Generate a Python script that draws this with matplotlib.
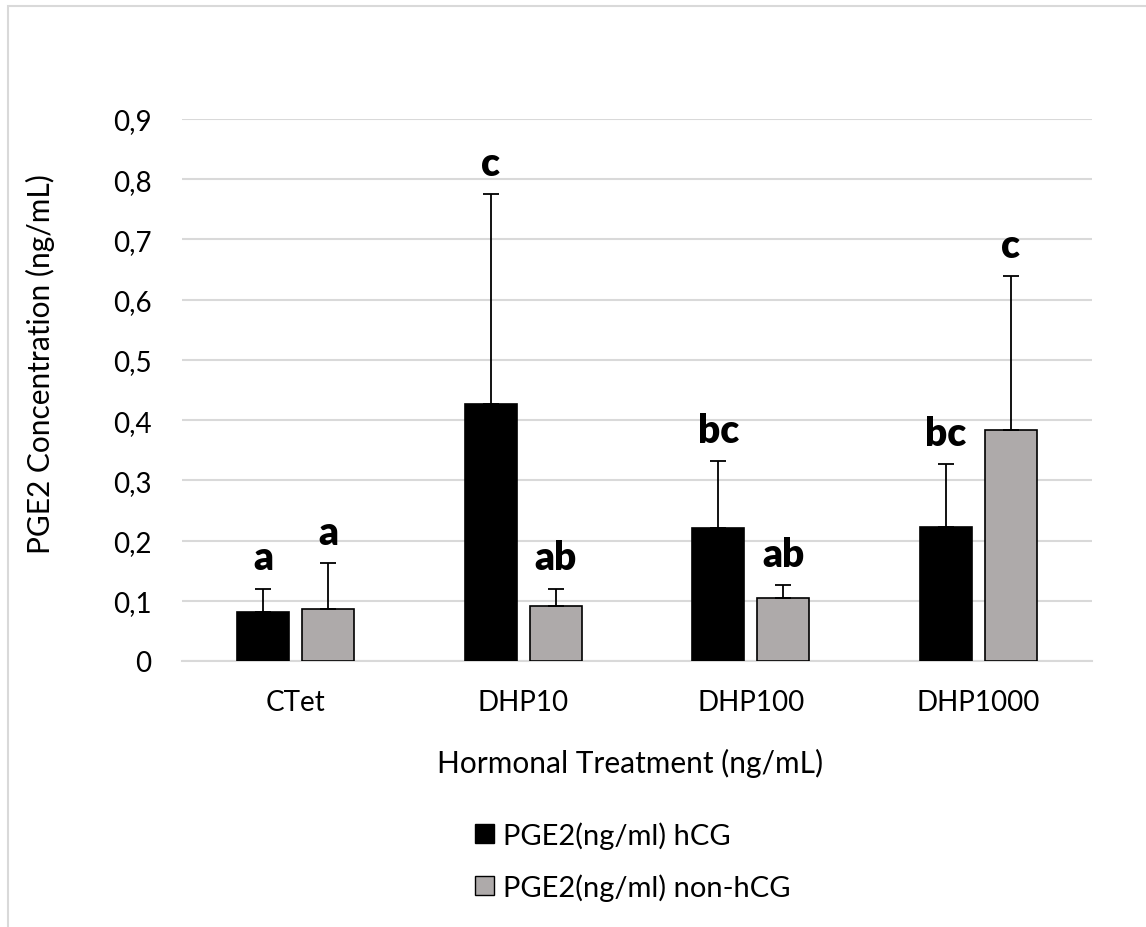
import numpy as np
import matplotlib.pyplot as plt
from matplotlib.patches import Rectangle, Patch

plt.rcParams['font.family'] = ['Lato', 'DejaVu Sans']

# Datos
tratamientos = ['CTet', 'DHP10', 'DHP100', 'DHP1000']
hcg = [0.082, 0.426, 0.221, 0.223]
hcg_err = [0.038, 0.349, 0.111, 0.104]
non_hcg = [0.086, 0.092, 0.104, 0.383]
non_hcg_err = [0.076, 0.028, 0.022, 0.256]
letras_hcg = ['a', 'c', 'bc', 'bc']
letras_non = ['a', 'ab', 'ab', 'c']
yticks = [0, 0.1, 0.2, 0.3, 0.4, 0.5, 0.6, 0.7, 0.8, 0.9]

W, H = 1146, 928
fig = plt.figure(figsize=(W / 100, H / 100), dpi=100)
ax = fig.add_axes([182 / W, 1 - 662 / H, (1092 - 182) / W, (662 - 120) / H])

# borde del grafico
fig.patches.append(Rectangle((8 / W, -0.1), 1.2, 1 - 7 / H + 0.1, transform=fig.transFigure,
                             fill=False, edgecolor='#d9d9d9', linewidth=1.5))

x = np.arange(len(tratamientos))
ancho = 0.228
desp = 0.143
negro = '#000000'
gris = '#aeaaaa'

ax.bar(x - desp, hcg, ancho, color=negro, edgecolor='black', linewidth=1.2, zorder=3)
ax.bar(x + desp, non_hcg, ancho, color=gris, edgecolor='black', linewidth=1.2, zorder=3)
ax.errorbar(x - desp, hcg, yerr=[np.zeros(4), hcg_err], fmt='none', ecolor='black',
            elinewidth=1.3, capsize=6, capthick=1.3, zorder=4)
ax.errorbar(x + desp, non_hcg, yerr=[np.zeros(4), non_hcg_err], fmt='none', ecolor='black',
            elinewidth=1.3, capsize=6, capthick=1.3, zorder=4)

# letras de significancia
for i in range(len(x)):
    ax.annotate(letras_hcg[i], (x[i] - desp, hcg[i] + hcg_err[i]), xytext=(0, 14),
                textcoords='offset points', ha='center', va='baseline',
                fontsize=28, fontweight='heavy')
    ax.annotate(letras_non[i], (x[i] + desp, non_hcg[i] + non_hcg_err[i]), xytext=(0, 14),
                textcoords='offset points', ha='center', va='baseline',
                fontsize=28, fontweight='heavy')

ax.set_xlim(-0.5, 3.5)
ax.set_ylim(0, 0.9)
ax.set_yticks(yticks)
ax.set_yticklabels([('%g' % v).replace('.', ',') for v in yticks])
ax.set_xticks(x)
ax.set_xticklabels(tratamientos)
ax.tick_params(axis='y', length=0, pad=22, labelsize=20)
ax.tick_params(axis='x', length=0, pad=20, labelsize=20)
ax.grid(axis='y', color='#d9d9d9', linewidth=1.5, zorder=0)
ax.set_axisbelow(True)
for s in ['top', 'right', 'left']:
    ax.spines[s].set_visible(False)
ax.spines['bottom'].set_color('#d9d9d9')
ax.spines['bottom'].set_linewidth(1.5)

fig.text(40 / W, 1 - 364 / H, 'PGE2 Concentration (ng/mL)', rotation=90,
         ha='center', va='center', fontsize=21.5)
fig.text(630 / W, 1 - 763 / H, 'Hormonal Treatment (ng/mL)', ha='center', va='center',
         fontsize=21.5)

handles = [Patch(facecolor=negro, edgecolor='black'),
           Patch(facecolor=gris, edgecolor='black')]
fig.legend(handles, ['PGE2(ng/ml) hCG', 'PGE2(ng/ml) non-hCG'], loc='center',
           bbox_to_anchor=(633 / W, 1 - 862 / H), frameon=False, fontsize=21,
           handlelength=0.65, handleheight=0.65, handletextpad=0.3, labelspacing=0.85)

fig.savefig('out.png', dpi=100)
